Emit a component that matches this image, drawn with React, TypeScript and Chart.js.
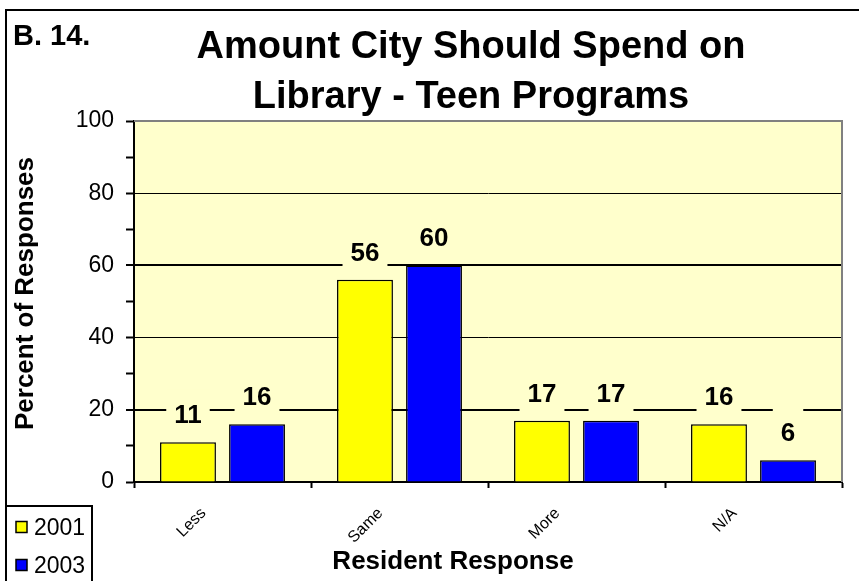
import React, { useEffect, useRef } from 'react';
import { Chart, registerables } from 'chart.js';

Chart.register(...registerables);

const categories = ['Less', 'Same', 'More', 'N/A'];
const series2001 = [11, 56, 17, 16];
const series2003 = [16, 60, 17, 6];
const seriesNames = ['2001', '2003'];
const yMin = 0;
const yMax = 100;
const yStep = 10;
const yLabelStep = 20;
const chartTitle = ['Amount City Should Spend on', 'Library - Teen Programs'];
const figureLabel = 'B. 14.';
const xTitle = 'Resident Response';
const yTitle = 'Percent of Responses';

const FONT = '"Liberation Sans", Arial, Helvetica, sans-serif';
const PLOT_BG = '#FFFFCC';
const YELLOW = '#FFFF00';
const BLUE = '#0000FF';

const decorPlugin = {
  id: 'decor',
  beforeDraw(chart: any) {
    const { ctx, chartArea: a } = chart;
    ctx.save();
    ctx.fillStyle = '#FFFFFF';
    ctx.fillRect(0, 0, chart.width, chart.height);
    ctx.fillStyle = PLOT_BG;
    ctx.fillRect(a.left, a.top, a.right - a.left, a.bottom - a.top);
    ctx.restore();
  },
  afterDatasetsDraw(chart: any) {
    const { ctx, chartArea: a } = chart;
    ctx.save();
    // gray top/right plot border
    ctx.strokeStyle = '#808080';
    ctx.lineWidth = 2;
    ctx.beginPath();
    ctx.moveTo(a.left, a.top);
    ctx.lineTo(a.right, a.top);
    ctx.lineTo(a.right, a.bottom);
    ctx.stroke();
    // data labels
    ctx.font = `bold 26px ${FONT}`;
    chart.data.datasets.forEach((ds: any, di: number) => {
      const meta = chart.getDatasetMeta(di);
      meta.data.forEach((el: any, i: number) => {
        const text = String(ds.data[i]);
        const w = ctx.measureText(text).width;
        const baseline = el.y - 19;
        const cy = baseline - 9.5;
        ctx.fillStyle = PLOT_BG;
        ctx.fillRect(el.x - w / 2 - 8, cy - 24, w + 16, 48);
        ctx.fillStyle = '#000000';
        ctx.textAlign = 'center';
        ctx.textBaseline = 'alphabetic';
        ctx.fillText(text, el.x, baseline);
      });
    });
    ctx.restore();
  },
  afterDraw(chart: any) {
    const { ctx, chartArea: a } = chart;
    ctx.save();
    // outer border (runs off right & bottom)
    ctx.strokeStyle = '#000000';
    ctx.lineWidth = 2;
    ctx.strokeRect(6, 10, chart.width + 20, chart.height + 20);
    // figure label
    ctx.fillStyle = '#000000';
    ctx.textAlign = 'left';
    ctx.textBaseline = 'alphabetic';
    ctx.font = `bold 29px ${FONT}`;
    ctx.fillText(figureLabel, 13, 45);
    // title
    ctx.textAlign = 'center';
    ctx.font = `bold 38px ${FONT}`;
    ctx.fillText(chartTitle[0], 471, 58);
    ctx.fillText(chartTitle[1], 471, 108);
    // x title
    ctx.font = `bold 26px ${FONT}`;
    ctx.fillText(xTitle, 453, 569);
    // y title
    ctx.save();
    ctx.translate(33, (a.top + a.bottom) / 2 - 8);
    ctx.rotate(-Math.PI / 2);
    ctx.fillText(yTitle, 0, 0);
    ctx.restore();
    // legend
    ctx.lineWidth = 2;
    ctx.strokeRect(6, 506, 86, 100);
    const colors = [YELLOW, BLUE];
    const rows = [527, 565];
    ctx.font = `23px ${FONT}`;
    ctx.textAlign = 'left';
    seriesNames.forEach((name, i) => {
      const cy = rows[i];
      ctx.fillStyle = colors[i];
      ctx.fillRect(16, cy - 5.5, 11, 11);
      ctx.lineWidth = 1.5;
      ctx.strokeStyle = '#000000';
      ctx.strokeRect(16, cy - 5.5, 11, 11);
      ctx.fillStyle = '#000000';
      ctx.fillText(name, 34, cy + 8);
    });
    ctx.restore();
  },
};

export default function App() {
  const ref = useRef<HTMLCanvasElement | null>(null);
  useEffect(() => {
    document.body.style.margin = '0';
    const canvas = ref.current;
    if (!canvas) return;
    const chart = new Chart(canvas, {
      type: 'bar',
      data: {
        labels: categories,
        datasets: [
          {
            label: seriesNames[0],
            data: series2001,
            backgroundColor: YELLOW,
            borderColor: '#000000',
            borderWidth: 1.5,
            categoryPercentage: 0.78,
            barPercentage: 0.81,
          },
          {
            label: seriesNames[1],
            data: series2003,
            backgroundColor: BLUE,
            borderColor: '#000000',
            borderWidth: 1.5,
            categoryPercentage: 0.78,
            barPercentage: 0.81,
          },
        ],
      },
      options: {
        responsive: false,
        animation: false,
        devicePixelRatio: 1,
        layout: { padding: { left: 0, top: 121, right: 17, bottom: 0 } },
        plugins: {
          legend: { display: false },
          title: { display: false },
          tooltip: { enabled: false },
        },
        scales: {
          x: {
            afterFit(scale: any) {
              scale.height = 99;
            },
            grid: {
              offset: true,
              drawOnChartArea: false,
              drawTicks: true,
              tickLength: 6,
              tickColor: '#000000',
              tickWidth: 2,
            },
            border: { color: '#000000', width: 2 },
            ticks: {
              color: '#000000',
              font: { family: FONT, size: 16 },
              maxRotation: 45,
              minRotation: 45,
              padding: 16,
              labelOffset: -19,
              autoSkip: false,
            },
          },
          y: {
            min: yMin,
            max: yMax,
            afterFit(scale: any) {
              scale.width = 134;
            },
            grid: {
              color: (c: any) => {
                const v = c.tick ? c.tick.value : 0;
                return v > yMin && v < yMax && v % yLabelStep === 0 ? '#000000' : 'rgba(0,0,0,0)';
              },
              lineWidth: (c: any) => {
                const v = c.tick ? c.tick.value : 0;
                return v === 20 || v === 60 ? 2 : 1;
              },
              drawTicks: true,
              tickLength: 8,
              tickColor: '#000000',
              tickWidth: 2,
            },
            border: { color: '#000000', width: 2 },
            ticks: {
              stepSize: yStep,
              color: '#000000',
              font: { family: FONT, size: 23 },
              padding: 12,
              callback: (v: any) => (Number(v) % yLabelStep === 0 ? String(v) : ''),
            },
          },
        },
      },
      plugins: [decorPlugin],
    });
    return () => chart.destroy();
  }, []);
  return <canvas ref={ref} width={859} height={581} style={{ display: 'block' }} />;
}
